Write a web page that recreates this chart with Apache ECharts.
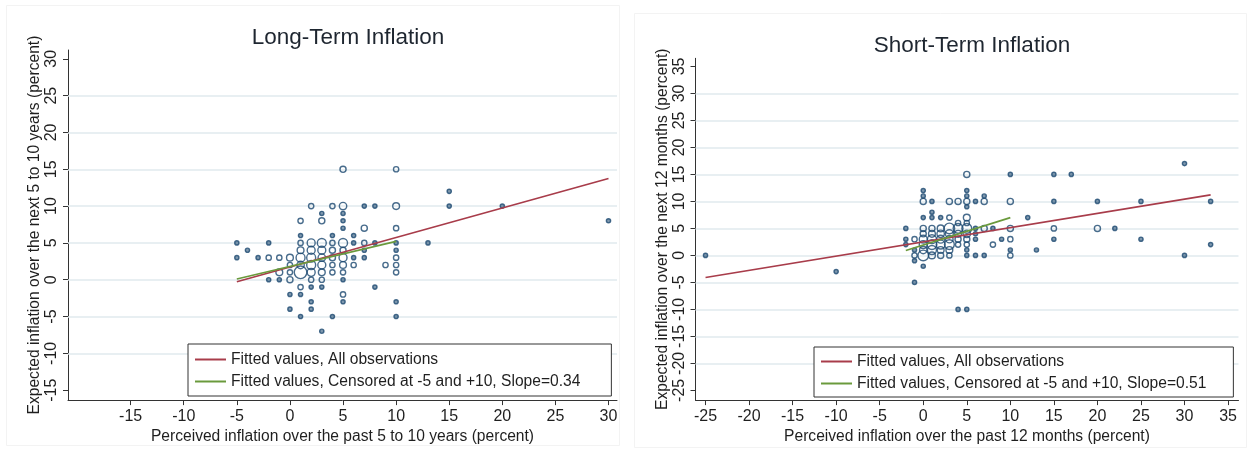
<!DOCTYPE html>
<html>
<head>
<meta charset="utf-8">
<title>Long-Term and Short-Term Inflation</title>
<script src="https://cdn.jsdelivr.net/npm/echarts@6/dist/echarts.min.js"></script>
<style>
  html, body { margin: 0; padding: 0; background: #ffffff; }
  #chart { width: 1249px; height: 450px; }
</style>
</head>
<body>
<div id="chart"></div>
<script>
// ---- Long-term panel: perceived (5-10y) vs expected (5-10y) inflation, [x, y, count]
const longTermPoints = [
  [-5, 5, 1], [-5, 3, 1], [-4, 4, 1], [-3, 3, 1], [-2, 5, 1], [-2, 3, 2], [-2, 0, 1],
  [-1, 3, 2], [-1, 1, 4], [-1, 0, 1],
  [0, 3, 4], [0, 2, 2], [0, 1, 2], [0, 0, 3], [0, -2, 1], [0, -4, 1],
  [1, 8, 2], [1, 6, 1], [1, 5, 2], [1, 4, 4], [1, 3, 8], [1, 2, 5], [1, 1, 18], [1, -1, 2], [1, -2, 1], [1, -5, 1],
  [2, 10, 2], [2, 5, 6], [2, 4, 6], [2, 3, 8], [2, 2, 8], [2, 1, 6], [2, 0, 2], [2, -1, 1], [2, -3, 1], [2, -4, 1],
  [3, 9, 1], [3, 8, 3], [3, 5, 8], [3, 4, 6], [3, 3, 5], [3, 2, 6], [3, 1, 4], [3, 0, 2], [3, -1, 1], [3, -7, 1],
  [4, 10, 2], [4, 6, 1], [4, 5, 2], [4, 4, 3], [4, 3, 3], [4, 2, 2], [4, 1, 2], [4, -5, 1],
  [5, 15, 3], [5, 10, 5], [5, 9, 1], [5, 8, 1], [5, 7, 1], [5, 5, 8], [5, 4, 3], [5, 3, 6], [5, 2, 4],
  [5, 1, 2], [5, 0, 1], [5, -2, 2], [5, -3, 1],
  [6, 6, 1], [6, 5, 1], [6, 3, 1], [6, 2, 2],
  [7, 10, 1], [7, 7, 3], [7, 5, 2], [7, 4, 1], [7, 3, 1],
  [8, 10, 1], [8, 5, 1], [8, -1, 1],
  [9, 2, 2],
  [10, 15, 2], [10, 10, 4], [10, 7, 2], [10, 5, 1], [10, 4, 1], [10, 3, 2], [10, 2, 2], [10, 1, 2], [10, -3, 1], [10, -5, 1],
  [13, 5, 1], [15, 12, 1], [15, 10, 1], [20, 10, 1], [30, 8, 1]
];
const longTermFitAll = [[-5, -0.27], [30, 13.74]];
const longTermFitCensored = [[-5, 0.1], [10, 5.2]];

// ---- Short-term panel: perceived (12m) vs expected (12m) inflation, [x, y, count]
const shortTermPoints = [
  [-25, 0, 1], [-10, -3, 1], [-1, -5, 1], [4, -10, 1], [5, -10, 1],
  [-2, 5, 1], [-2, 3, 1], [-2, 2, 1],
  [-1, 3, 2], [-1, 1, 1], [-1, 0, 2], [-1, -1, 1],
  [0, 12, 1], [0, 11, 1], [0, 10, 3], [0, 7, 1], [0, 5, 3], [0, 4, 3], [0, 3, 6], [0, 2, 6], [0, 1, 5], [0, 0, 12], [0, -2, 1],
  [1, 10, 1], [1, 8, 1], [1, 7, 1], [1, 5, 3], [1, 4, 4], [1, 3, 8], [1, 2, 10], [1, 1, 8], [1, 0, 4],
  [2, 7, 1], [2, 5, 4], [2, 4, 5], [2, 3, 6], [2, 2, 8], [2, 1, 4], [2, 0, 3],
  [3, 10, 3], [3, 7, 2], [3, 5, 12], [3, 4, 6], [3, 3, 5], [3, 2, 10], [3, 1, 4], [3, 0, 2],
  [4, 10, 3], [4, 6, 2], [4, 5, 10], [4, 4, 4], [4, 3, 3], [4, 2, 2],
  [5, 15, 3], [5, 12, 1], [5, 11, 1], [5, 10, 3], [5, 9, 1], [5, 7, 4], [5, 6, 2], [5, 5, 10], [5, 4, 5],
  [5, 3, 3], [5, 2, 2], [5, 1, 1], [5, 0, 1],
  [6, 10, 1], [6, 5, 1], [6, 4, 1], [6, 3, 1], [6, 0, 1],
  [7, 11, 1], [7, 10, 3], [7, 5, 3], [7, 0, 1],
  [8, 5, 1], [8, 2, 2], [9, 3, 1],
  [10, 15, 1], [10, 10, 3], [10, 5, 3], [10, 3, 2], [10, 1, 1], [10, 0, 2],
  [12, 7, 1], [13, 1, 1],
  [15, 15, 1], [15, 10, 1], [15, 5, 2], [15, 3, 1], [17, 15, 1],
  [20, 10, 1], [20, 5, 3], [22, 5, 1],
  [25, 10, 1], [25, 3, 1], [30, 17, 1], [30, 0, 1], [33, 10, 1], [33, 2, 1]
];
const shortTermFitAll = [[-25, -4.1], [33, 11.2]];
const shortTermFitCensored = [[-2, 0.9], [10, 7.0]];

// ---- Tick labels and gridline levels
const longTermXTicks = [-15, -10, -5, 0, 5, 10, 15, 20, 25, 30];
const longTermYTicks = [-15, -10, -5, 0, 5, 10, 15, 20, 25, 30];
const longTermGrid = [-10, -5, 0, 5, 10, 15, 20, 25];
const shortTermXTicks = [-25, -20, -15, -10, -5, 0, 5, 10, 15, 20, 25, 30, 35];
const shortTermYTicks = [-25, -20, -15, -10, -5, 0, 5, 10, 15, 20, 25, 30, 35];
const shortTermGrid = [-20, -15, -10, -5, 0, 5, 10, 15, 20, 25, 30];

const titles = ['Long-Term Inflation', 'Short-Term Inflation'];
const xNames = ['Perceived inflation over the past 5 to 10 years (percent)',
                'Perceived inflation over the past 12 months (percent)'];
const yNames = ['Expected inflation over the next 5 to 10 years (percent)',
                'Expected inflation over the next 12 months (percent)'];
const fitAllName = 'Fitted values, All observations';
const fitCensoredNames = ['Fitted values, Censored at -5 and +10, Slope=0.34',
                          'Fitted values, Censored at -5 and +10, Slope=0.51'];

const FONT = '"Liberation Sans", Arial, sans-serif';
const NAVY = '#1a476f';
const RED = '#a83c4a';
const GREEN = '#6a9a3c';
const GRIDLINE = '#e1eaee';
const INK = '#1f1f1f';

function markerSize(v) { return 1.6 + 2.6 * Math.sqrt(v[2]); }
// single observations render as small solid dots, repeated ones as hollow rings
function markerFill(p) { return p.value[2] === 1 ? 'rgba(26,71,111,0.7)' : 'rgba(255,255,255,0)'; }

function xAxisFor(idx, min, max, ticks, name) {
  return {
    type: 'value', gridIndex: idx, min: min, max: max,
    name: name, nameLocation: 'middle', nameGap: 25,
    nameTextStyle: { fontFamily: FONT, fontSize: 15.6, color: INK },
    axisLine: { show: true, onZero: false, lineStyle: { color: '#333', width: 1 } },
    axisTick: { show: true, length: 5, customValues: ticks, lineStyle: { color: '#333' } },
    axisLabel: { customValues: ticks, margin: 8, fontFamily: FONT, fontSize: 16, color: INK },
    splitLine: { show: false }
  };
}
function yAxisFor(idx, min, max, ticks, name) {
  return {
    type: 'value', gridIndex: idx, min: min, max: max,
    name: name, nameLocation: 'middle', nameGap: 25,
    nameTextStyle: { fontFamily: FONT, fontSize: 15.6, color: INK },
    axisLine: { show: true, onZero: false, lineStyle: { color: '#333', width: 1 } },
    axisTick: { show: true, length: 5, customValues: ticks, lineStyle: { color: '#333' } },
    axisLabel: { customValues: ticks, rotate: 90, margin: 8, fontFamily: FONT, fontSize: 16, color: INK },
    splitLine: { show: false }
  };
}
function scatterFor(idx, points, gridLevels) {
  return {
    type: 'scatter', xAxisIndex: idx, yAxisIndex: idx, z: 2,
    data: points, symbol: 'circle', symbolSize: markerSize,
    itemStyle: { color: markerFill, borderColor: NAVY, borderWidth: 1.4 },
    emphasis: { disabled: true },
    markLine: {
      silent: true, z: 1, symbol: 'none', animation: false,
      label: { show: false },
      emphasis: { disabled: true },
      lineStyle: { color: GRIDLINE, width: 1.5, type: 'solid', opacity: 1 },
      data: gridLevels.map(v => ({ yAxis: v }))
    }
  };
}
function fitFor(idx, name, pts, color) {
  return {
    type: 'line', name: name, xAxisIndex: idx, yAxisIndex: idx, z: 3,
    data: pts, showSymbol: false, symbol: 'none',
    lineStyle: { color: color, width: 1.7 }, itemStyle: { color: color },
    emphasis: { disabled: true }
  };
}
function legendFor(left, top, names, pad) {
  return {
    left: left, top: top, orient: 'vertical', data: names,
    icon: 'rect', itemWidth: 31, itemHeight: 2, itemGap: 5,
    padding: pad, backgroundColor: '#ffffff',
    borderColor: '#333', borderWidth: 1, selectedMode: false,
    textStyle: { fontFamily: FONT, fontSize: 15.6, color: INK, lineHeight: 17, padding: [0, 0, 0, 0] }
  };
}

const chart = echarts.init(document.getElementById('chart'), null, { renderer: 'canvas' });
chart.setOption({
  animation: false,
  backgroundColor: '#ffffff',
  graphic: [
    { type: 'rect', shape: { x: 6.5, y: 5.5, width: 613, height: 440 },
      style: { fill: 'none', stroke: '#f3f3f3', lineWidth: 1 }, silent: true, z: -1 },
    { type: 'rect', shape: { x: 634.5, y: 13.5, width: 612, height: 434 },
      style: { fill: 'none', stroke: '#f3f3f3', lineWidth: 1 }, silent: true, z: -1 }
  ],
  title: [
    { text: titles[0], left: 343, top: 21, textAlign: 'center',
      textStyle: { fontFamily: FONT, fontSize: 22.5, fontWeight: 'normal', color: '#1e2630' } },
    { text: titles[1], left: 967, top: 29, textAlign: 'center',
      textStyle: { fontFamily: FONT, fontSize: 22.5, fontWeight: 'normal', color: '#1e2630' } }
  ],
  legend: [
    legendFor(188, 344, [fitAllName, fitCensoredNames[0]], [7, 31, 6, 7]),
    legendFor(814, 347, [fitAllName, fitCensoredNames[1]], [6, 27, 5, 7])
  ],
  grid: [
    { left: 68, top: 50, width: 549, height: 352, containLabel: false },
    { left: 695.5, top: 58.3, width: 543, height: 344, containLabel: false }
  ],
  xAxis: [
    xAxisFor(0, -20.9, 30.8, longTermXTicks, xNames[0]),
    xAxisFor(1, -26.15, 36.2, shortTermXTicks, xNames[1])
  ],
  yAxis: [
    yAxisFor(0, -16.35, 31.2, longTermYTicks, yNames[0]),
    yAxisFor(1, -26.8, 36.5, shortTermYTicks, yNames[1])
  ],
  series: [
    scatterFor(0, longTermPoints, longTermGrid),
    fitFor(0, fitAllName, longTermFitAll, RED),
    fitFor(0, fitCensoredNames[0], longTermFitCensored, GREEN),
    scatterFor(1, shortTermPoints, shortTermGrid),
    fitFor(1, fitAllName, shortTermFitAll, RED),
    fitFor(1, fitCensoredNames[1], shortTermFitCensored, GREEN)
  ]
});
</script>
</body>
</html>
